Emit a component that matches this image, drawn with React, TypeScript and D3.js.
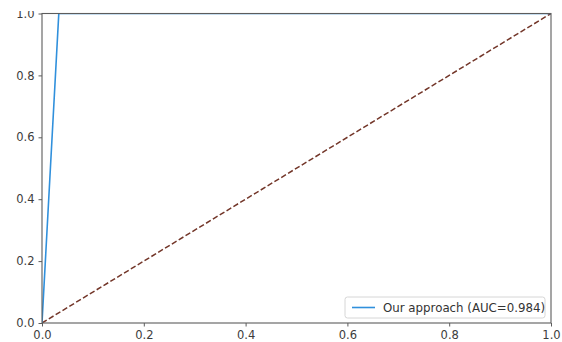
import React, { useRef, useEffect } from "react";
import * as d3 from "d3";

// ROC curve points
const fpr = [0, 0.033, 1];
const tpr = [0, 1, 1];
const chanceX = [0, 1];
const chanceY = [0, 1];
const tickValues = [0, 0.2, 0.4, 0.6, 0.8, 1.0];
const legendLabel = "Our approach (AUC=0.984)";

const W = 562;
const H = 342;
const margin = { top: 13.5, right: 11, bottom: 19, left: 42 };

export default function App() {
  const ref = useRef<SVGSVGElement>(null);

  useEffect(() => {
    const svg = d3.select(ref.current);
    svg.selectAll("*").remove();

    const x = d3.scaleLinear().domain([0, 1]).range([margin.left, W - margin.right]);
    const y = d3.scaleLinear().domain([0, 1]).range([H - margin.bottom, margin.top]);

    const defs = svg.append("defs");
    defs
      .append("clipPath")
      .attr("id", "plot-clip")
      .append("rect")
      .attr("x", x(0))
      .attr("y", y(1))
      .attr("width", x(1) - x(0))
      .attr("height", y(0) - y(1));
    // the top label is cut in the reference
    defs
      .append("clipPath")
      .attr("id", "page-clip")
      .append("rect")
      .attr("x", 0)
      .attr("y", 11)
      .attr("width", W)
      .attr("height", H);

    const xy = d3.line<[number, number]>().x((d) => x(d[0])).y((d) => y(d[1]));

    const plot = svg.append("g").attr("clip-path", "url(#plot-clip)");

    // chance line
    plot
      .append("path")
      .datum(chanceX.map((v, i) => [v, chanceY[i]] as [number, number]))
      .attr("d", xy)
      .attr("fill", "none")
      .attr("stroke", "#733629")
      .attr("stroke-width", 1.5)
      .attr("stroke-dasharray", "5.5,2.5");

    // ROC curve
    plot
      .append("path")
      .datum(fpr.map((v, i) => [v, tpr[i]] as [number, number]))
      .attr("d", xy)
      .attr("fill", "none")
      .attr("stroke", "#3090dc")
      .attr("stroke-width", 1.6);

    // spines
    svg
      .append("rect")
      .attr("x", x(0))
      .attr("y", y(1))
      .attr("width", x(1) - x(0))
      .attr("height", y(0) - y(1))
      .attr("fill", "none")
      .attr("stroke", "#5c5c5c")
      .attr("stroke-width", 1.1);

    const axes = svg.append("g").attr("clip-path", "url(#page-clip)");

    const xAxis = axes
      .append("g")
      .attr("transform", `translate(0,${y(0)})`)
      .call(d3.axisBottom(x).tickValues(tickValues).tickFormat(d3.format(".1f")).tickSize(3.5).tickPadding(4.5));
    const yAxis = axes
      .append("g")
      .attr("transform", `translate(${x(0)},0)`)
      .call(d3.axisLeft(y).tickValues(tickValues).tickFormat(d3.format(".1f")).tickSize(3.5).tickPadding(4));

    [xAxis, yAxis].forEach((a) => {
      a.select(".domain").remove();
      a.selectAll(".tick line").attr("stroke", "#5c5c5c");
      a.selectAll(".tick text")
        .attr("fill", "#3c3c3c")
        .style("font-family", "DejaVu Sans, sans-serif")
        .style("font-size", "11.5px");
    });

    // legend
    const lg = svg.append("g").attr("transform", `translate(${x(1) - 206},${y(0) - 26})`);
    lg.append("rect")
      .attr("width", 200)
      .attr("height", 21)
      .attr("rx", 2.5)
      .attr("fill", "#fff")
      .attr("fill-opacity", 0.8)
      .attr("stroke", "#d6d6d6")
      .attr("stroke-width", 1);
    lg.append("line")
      .attr("x1", 7)
      .attr("x2", 30)
      .attr("y1", 10.5)
      .attr("y2", 10.5)
      .attr("stroke", "#3090dc")
      .attr("stroke-width", 1.6);
    lg.append("text")
      .attr("x", 38)
      .attr("y", 10.5)
      .attr("dy", "0.35em")
      .attr("fill", "#333")
      .style("font-family", "DejaVu Sans, sans-serif")
      .style("font-size", "11.8px")
      .text(legendLabel);
  }, []);

  return (
    <svg
      ref={ref}
      width={W}
      height={H}
      style={{ position: "absolute", left: 0, top: 0, background: "#fff" }}
    />
  );
}
